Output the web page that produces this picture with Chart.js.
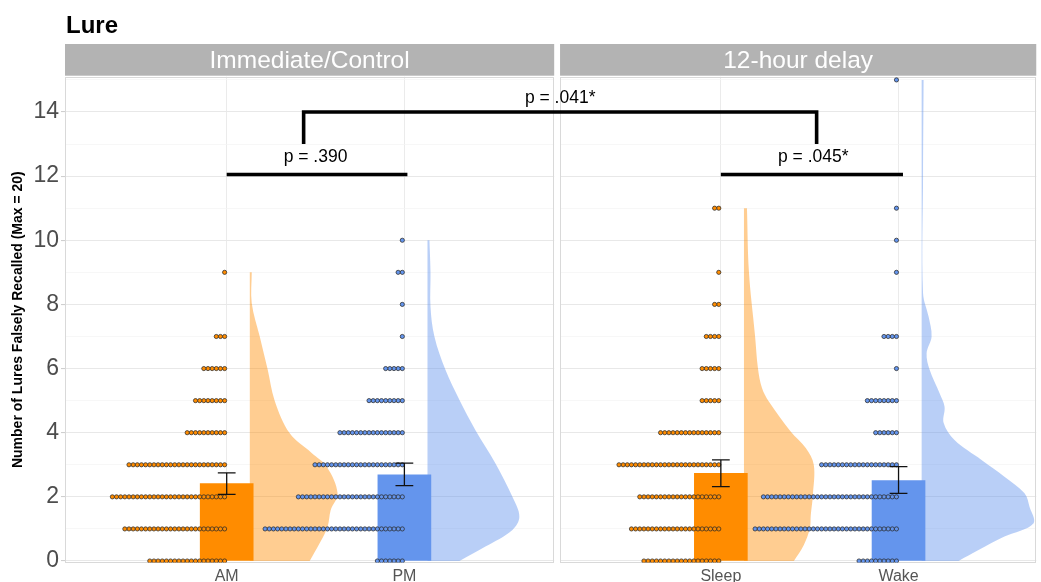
<!DOCTYPE html>
<html>
<head>
<meta charset="utf-8">
<script src="https://cdn.jsdelivr.net/npm/chart.js@4.4.1/dist/chart.umd.min.js"></script>
<style>
  html, body { margin: 0; padding: 0; background: #fff; }
  canvas { display: block; }
</style>
</head>
<body>
<canvas id="lureChart" width="1041" height="582"></canvas>
<script>
// ---- data ----
const facetNames = ['Immediate/Control', '12-hour delay'];
const groupNames = ['AM', 'PM', 'Sleep', 'Wake'];
const groupFacet = [0, 0, 1, 1];

const meanLures = [2.41, 2.69, 2.73, 2.51];
const seLow = [2.08, 2.35, 2.32, 2.11];
const seHigh = [2.75, 3.05, 3.15, 2.94];

// number of participants at each score (index = lures falsely recalled)
const countsAM = [19, 25, 28, 24, 10, 8, 6, 3, 0, 1];
const countsPM = [7, 34, 26, 22, 16, 9, 5, 1, 1, 2, 1];
const countsSleep = [19, 22, 20, 25, 15, 5, 5, 4, 2, 1, 0, 2];
const countsWake = [10, 35, 33, 19, 6, 8, 1, 4, 0, 1, 1, 1, 0, 0, 0, 1];

// half-violin outlines: score level and density width (in category units)
const violinYAM = [0, 0.55, 1.07, 1.58, 2.11, 2.94, 3.37, 3.98, 5.0, 5.96, 7.0, 8.04, 9.0];
const violinWAM = [0.337, 0.393, 0.438, 0.455, 0.494, 0.433, 0.348, 0.225, 0.140, 0.101, 0.056, 0.011, 0.011];
const violinYPM = [0, 0.45, 0.97, 1.38, 2.0, 3.05, 4.08, 5.02, 5.96, 7.0, 7.93, 8.98, 10.0];
const violinWPM = [0.180, 0.326, 0.478, 0.517, 0.478, 0.382, 0.270, 0.180, 0.101, 0.039, 0.017, 0.017, 0.011];
const violinYSleep = [0, 0.5, 1.02, 1.43, 2.06, 3.0, 3.52, 4.03, 4.97, 5.4, 6.0, 7.05, 9.02, 11.0];
const violinWSleep = [0.281, 0.337, 0.371, 0.376, 0.388, 0.393, 0.348, 0.264, 0.140, 0.101, 0.079, 0.062, 0.028, 0.017];
const violinYWake = [0, 0.34, 0.76, 1.17, 1.69, 2.11, 2.63, 3.15, 3.77, 4.3, 4.81, 5.23, 5.96, 6.48, 7.0, 7.62, 8.35, 11.98, 15.0];
const violinWWake = [0.208, 0.320, 0.466, 0.629, 0.607, 0.579, 0.466, 0.337, 0.185, 0.124, 0.129, 0.101, 0.045, 0.028, 0.056, 0.039, 0.008, 0.008, 0.011];

const yTicks = [0, 2, 4, 6, 8, 10, 12, 14];
const pLabels = ['p = .390', 'p = .045*', 'p = .041*'];

// ---- layout (category units on one shared x axis) ----
const facetStart = [0, 2.781];
const xMin = 0.09, xMax = 5.556;
const panelBounds = [[xMin, 2.843], [2.876, xMax]];
const dotStep = 0.0234;
const violinGap = 0.13;
const capHalf = 0.05;
const FONT = '"Liberation Sans", Arial, sans-serif';

const orange = '#FF8C00', blue = '#6495ED';
const solid = [orange, blue, orange, blue];
const soft = ['rgba(255,140,0,0.43)', 'rgba(100,149,237,0.45)', 'rgba(255,140,0,0.43)', 'rgba(100,149,237,0.45)'];

const groupX = groupNames.map((_, i) => facetStart[groupFacet[i]] + (i % 2) + 1);
const counts = [countsAM, countsPM, countsSleep, countsWake];
const violinY = [violinYAM, violinYPM, violinYSleep, violinYWake];
const violinW = [violinWAM, violinWPM, violinWSleep, violinWWake];

// significance brackets: [x, y] path in data units
const brackets = [
  { path: [[groupX[0], 12.05], [groupX[1] + 0.017, 12.05]], label: pLabels[0], at: [groupX[0] + 0.5, 12.58] },
  { path: [[groupX[2], 12.05], [groupX[3] + 0.025, 12.05]], label: pLabels[1], at: [groupX[2] + 0.52, 12.58] },
  { path: [[1.433, 13.0], [1.433, 14.0], [4.32, 14.0], [4.32, 13.0]], label: pLabels[2], at: [2.877, 14.42] }
];

const datasets = [];

// half violins (corners doubled so the spline keeps them sharp)
groupNames.forEach((g, i) => {
  const x0 = groupX[i] + violinGap;
  const ys = violinY[i], ws = violinW[i];
  const last = ys.length - 1;
  const pts = [{ x: x0, y: ys[0] }, { x: x0, y: ys[0] }];
  ys.forEach((y, k) => {
    pts.push({ x: x0 + ws[k], y });
    if (k === 0 || k === last) pts.push({ x: x0 + ws[k], y });
  });
  pts.push({ x: x0, y: ys[last] }, { x: x0, y: ys[last] });
  pts.push({ x: x0, y: ys[0] }, { x: x0, y: ys[0] });
  datasets.push({
    type: 'line', data: pts, fill: 'shape', backgroundColor: soft[i],
    borderWidth: 0, borderColor: 'rgba(0,0,0,0)', pointRadius: 0, tension: 0.35, order: 6
  });
});

// mean bars
datasets.push({
  type: 'bar',
  data: groupNames.map((g, i) => ({ x: groupX[i], y: meanLures[i] })),
  backgroundColor: solid, barThickness: 53, order: 5
});

// dot plots (stacked leftwards from the category)
groupNames.forEach((g, i) => {
  const pts = [];
  counts[i].forEach((n, v) => {
    for (let k = 0; k < n; k++) pts.push({ x: groupX[i] - (k + 0.5) * dotStep, y: v });
  });
  datasets.push({
    type: 'scatter', data: pts, pointRadius: 2.1, pointBorderWidth: 0.75,
    pointBorderColor: '#2a2a2a', pointBackgroundColor: solid[i], order: 3
  });
});

// error bars
groupNames.forEach((g, i) => {
  const x = groupX[i];
  datasets.push({
    type: 'line',
    data: [
      { x: x - capHalf, y: seHigh[i] }, { x: x + capHalf, y: seHigh[i] }, { x: x, y: seHigh[i] },
      { x: x, y: seLow[i] }, { x: x - capHalf, y: seLow[i] }, { x: x + capHalf, y: seLow[i] }
    ],
    borderColor: '#111', borderWidth: 1.3, pointRadius: 0, fill: false, tension: 0, order: 2
  });
});

// brackets
brackets.forEach(b => {
  datasets.push({
    type: 'line',
    data: b.path.map(([x, y]) => ({ x, y })),
    borderColor: '#000', borderWidth: 3.6, pointRadius: 0, fill: false, tension: 0,
    borderJoinStyle: 'miter', borderCapStyle: 'butt', order: 1
  });
});

const facetPlugin = {
  id: 'facets',
  beforeDatasetsDraw(chart) {
    const { ctx, chartArea: a, scales: { x } } = chart;
    ctx.save();
    const gl = x.getPixelForValue(panelBounds[0][1]);
    const gr = x.getPixelForValue(panelBounds[1][0]);
    ctx.fillStyle = '#fff';
    ctx.fillRect(gl, a.top - 1, gr - gl, a.bottom - a.top + 2);
    ctx.strokeStyle = '#d9d9d9';
    ctx.lineWidth = 1;
    panelBounds.forEach(([l, r]) => {
      const L = Math.round(x.getPixelForValue(l)), R = Math.round(x.getPixelForValue(r));
      ctx.strokeRect(L + 0.5, Math.round(a.top) + 0.5, R - L - 1, Math.round(a.bottom - a.top) - 1);
    });
    ctx.restore();
  },
  afterDraw(chart) {
    const { ctx, chartArea: a, scales: { x, y } } = chart;
    ctx.save();
    // strips
    panelBounds.forEach(([l, r], i) => {
      const L = x.getPixelForValue(l), R = x.getPixelForValue(r);
      ctx.fillStyle = '#b3b3b3';
      ctx.fillRect(L, 44, R - L, a.top - 44 - 1);
      ctx.fillStyle = '#fff';
      ctx.font = '24.5px ' + FONT;
      ctx.textAlign = 'center';
      ctx.textBaseline = 'middle';
      ctx.fillText(facetNames[i], (L + R) / 2, 61);
    });
    // title
    ctx.fillStyle = '#000';
    ctx.font = 'bold 24px ' + FONT;
    ctx.textAlign = 'left';
    ctx.textBaseline = 'alphabetic';
    ctx.fillText('Lure', 66, 33);
    // p-values
    ctx.font = '17.5px ' + FONT;
    ctx.textAlign = 'center';
    ctx.textBaseline = 'middle';
    brackets.forEach(b => {
      ctx.fillText(b.label, x.getPixelForValue(b.at[0]), y.getPixelForValue(b.at[1]));
    });
    ctx.restore();
  }
};

new Chart(document.getElementById('lureChart'), {
  type: 'scatter',
  data: { datasets },
  plugins: [facetPlugin],
  options: {
    responsive: false,
    animation: false,
    devicePixelRatio: 1,
    layout: { padding: { top: 76.7, right: 3, bottom: 0, left: 0 } },
    plugins: { legend: { display: false }, tooltip: { enabled: false } },
    scales: {
      x: {
        type: 'linear', min: xMin, max: xMax, offset: false,
        afterFit: s => { s.height = 19.4; },
        afterBuildTicks: s => { s.ticks = groupX.map(v => ({ value: v })); },
        grid: { color: '#ebebeb', lineWidth: 1, drawTicks: false, offset: false },
        border: { display: false },
        ticks: {
          padding: 4, color: '#555', font: { family: FONT, size: 16 },
          autoSkip: false, maxRotation: 0,
          callback: (v) => groupNames[groupX.findIndex(g => Math.abs(g - v) < 1e-6)]
        }
      },
      y: {
        min: -0.05, max: 15.1,
        afterFit: s => { s.width = 65; },
        afterBuildTicks: s => {
          const t = [];
          for (let v = 0; v <= 15; v++) t.push({ value: v });
          s.ticks = t;
        },
        grid: {
          color: c => (yTicks.includes(c.tick.value) ? '#e8e8e8' : '#f3f3f3'),
          lineWidth: c => (yTicks.includes(c.tick.value) ? 1.1 : 0.7),
          tickLength: 4,
          tickColor: c => (yTicks.includes(c.tick.value) ? '#cfcfcf' : 'rgba(0,0,0,0)')
        },
        border: { display: false },
        ticks: {
          padding: 2, color: '#4d4d4d', font: { family: FONT, size: 23 },
          autoSkip: false,
          callback: v => (yTicks.includes(v) ? String(v) : '')
        },
        title: {
          display: true, text: 'Number of Lures Falsely Recalled (Max = 20)',
          color: '#000', font: { family: FONT, size: 14, weight: 'bold' },
          padding: { top: 10, bottom: 0 }
        }
      }
    }
  }
});
</script>
</body>
</html>
